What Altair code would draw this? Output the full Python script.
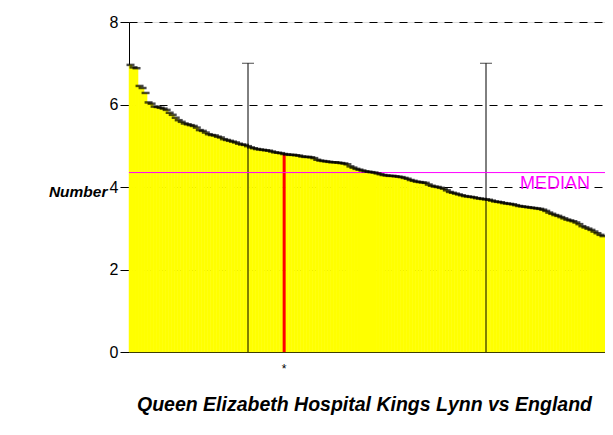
import altair as alt
import pandas as pd

# Values per hospital, sorted descending
values = [
    6.96, 6.90, 6.88, 6.45, 6.40, 6.28, 6.05, 6.02, 5.95, 5.94,
    5.92, 5.90, 5.87, 5.80, 5.75, 5.68, 5.62, 5.58, 5.54, 5.52,
    5.50, 5.48, 5.44, 5.38, 5.36, 5.32, 5.28, 5.26, 5.25, 5.22,
    5.20, 5.16, 5.14, 5.12, 5.10, 5.08, 5.05, 5.03, 5.02, 4.99,
    4.96, 4.94, 4.92, 4.91, 4.90, 4.89, 4.88, 4.86, 4.84, 4.83,
    4.82, 4.80, 4.79, 4.78, 4.78, 4.77, 4.76, 4.74, 4.73, 4.73,
    4.72, 4.70, 4.66, 4.64, 4.63, 4.62, 4.61, 4.60, 4.60, 4.59,
    4.58, 4.57, 4.55, 4.50, 4.47, 4.44, 4.42, 4.40, 4.38, 4.37,
    4.36, 4.35, 4.33, 4.31, 4.29, 4.28, 4.27, 4.27, 4.26, 4.25,
    4.24, 4.22, 4.20, 4.17, 4.15, 4.13, 4.12, 4.11, 4.10, 4.06,
    4.03, 4.01, 4.00, 3.98, 3.96, 3.92, 3.88, 3.86, 3.84, 3.82,
    3.80, 3.78, 3.77, 3.76, 3.75, 3.73, 3.72, 3.71, 3.70, 3.69,
    3.67, 3.65, 3.64, 3.63, 3.61, 3.60, 3.59, 3.58, 3.56, 3.54,
    3.53, 3.52, 3.51, 3.50, 3.49, 3.48, 3.47, 3.45, 3.42, 3.38,
    3.35, 3.32, 3.30, 3.27, 3.24, 3.21, 3.19, 3.17, 3.14, 3.10,
    3.05, 3.02, 2.99, 2.96, 2.92, 2.88, 2.84, 2.81,
]
highlight_index = [51]
quartile_index = [39, 118]
whisker_top = [7.0, 7.0]
median_value = [4.35]
median_label = ["MEDIAN"]
y_ticks = [0, 2, 4, 6, 8]
title_text = "Queen Elizabeth Hospital Kings Lynn vs England"
y_title = "Number"

FONT = "Liberation Sans"

df = pd.DataFrame({"idx": list(range(len(values))), "value": values})
df_whisk = pd.DataFrame({"idx": quartile_index, "value": whisker_top})
df_med = pd.DataFrame({"value": median_value, "label": median_label})

x_enc = alt.X(
    "idx:O",
    scale=alt.Scale(paddingInner=0, paddingOuter=0),
    axis=alt.Axis(
        labels=False, ticks=False, grid=False, domain=True,
        domainColor="black", domainWidth=1,
        title=title_text, titleFont=FONT, titleFontSize=19.5,
        titleFontStyle="italic", titleFontWeight="bold", titleColor="black",
        titleBaseline="alphabetic", titleY=58, titleX=235,
    ),
)
y_enc = alt.Y(
    "value:Q",
    scale=alt.Scale(domain=[0, 8], nice=False),
    axis=alt.Axis(
        values=y_ticks, grid=True, gridColor="black", gridDash=[8, 7],
        gridWidth=1, tickColor="black", tickSize=9, domainColor="black",
        labelFont=FONT, labelFontSize=16, labelColor="black", labelPadding=2,
        title=y_title, titleAngle=0, titleAlign="right", titleBaseline="middle",
        titleX=-22, titleY=169, titleFont=FONT, titleFontSize=15.5,
        titleFontStyle="italic", titleFontWeight="bold", titleColor="black",
    ),
)
y_plain = alt.Y("value:Q", title=y_title)

base = alt.Chart(df)

bars = base.mark_bar(color="#ffff00", stroke="#ffff00", strokeWidth=0.5).encode(
    x=x_enc, y=y_enc
)

red = base.transform_filter(
    alt.FieldOneOfPredicate(field="idx", oneOf=highlight_index)
).mark_bar(color="#ff0000").encode(x="idx:O", y=y_plain)

whisk = alt.Chart(df_whisk).mark_rule(color="black", strokeWidth=1).encode(
    x="idx:O", y=y_plain, y2=alt.datum(0)
)
whisk_cap = alt.Chart(df_whisk).mark_tick(
    orient="horizontal", size=12, thickness=1, color="black"
).encode(x="idx:O", y=y_plain)

med_rule = alt.Chart(df_med).mark_rule(color="#ff00ff", strokeWidth=1).encode(
    y=y_plain
)
med_text = alt.Chart(df_med).mark_text(
    align="right", baseline="alphabetic", dy=16, color="#ff00ff",
    font=FONT, fontSize=18,
).encode(x=alt.value(461), y=y_plain, text="label:N")

caps = base.mark_tick(
    orient="horizontal", size=8, thickness=2.5, color="black"
).encode(x="idx:O", y=y_plain)

star = base.transform_filter(
    alt.FieldOneOfPredicate(field="idx", oneOf=highlight_index)
).mark_text(text="*", font=FONT, fontSize=12, baseline="alphabetic", color="black").encode(
    x="idx:O", y=alt.value(351)
)

chart = alt.layer(
    bars, red, whisk, whisk_cap, med_rule, caps, med_text, star
).properties(
    width=476, height=330,
    autosize=alt.AutoSizeParams(type="none"),
    padding={"left": 121, "top": 14, "right": 0, "bottom": 75},
).configure_view(stroke=None).configure(font=FONT)

chart.save("out.html", embed_options={"renderer": "svg", "actions": False})
